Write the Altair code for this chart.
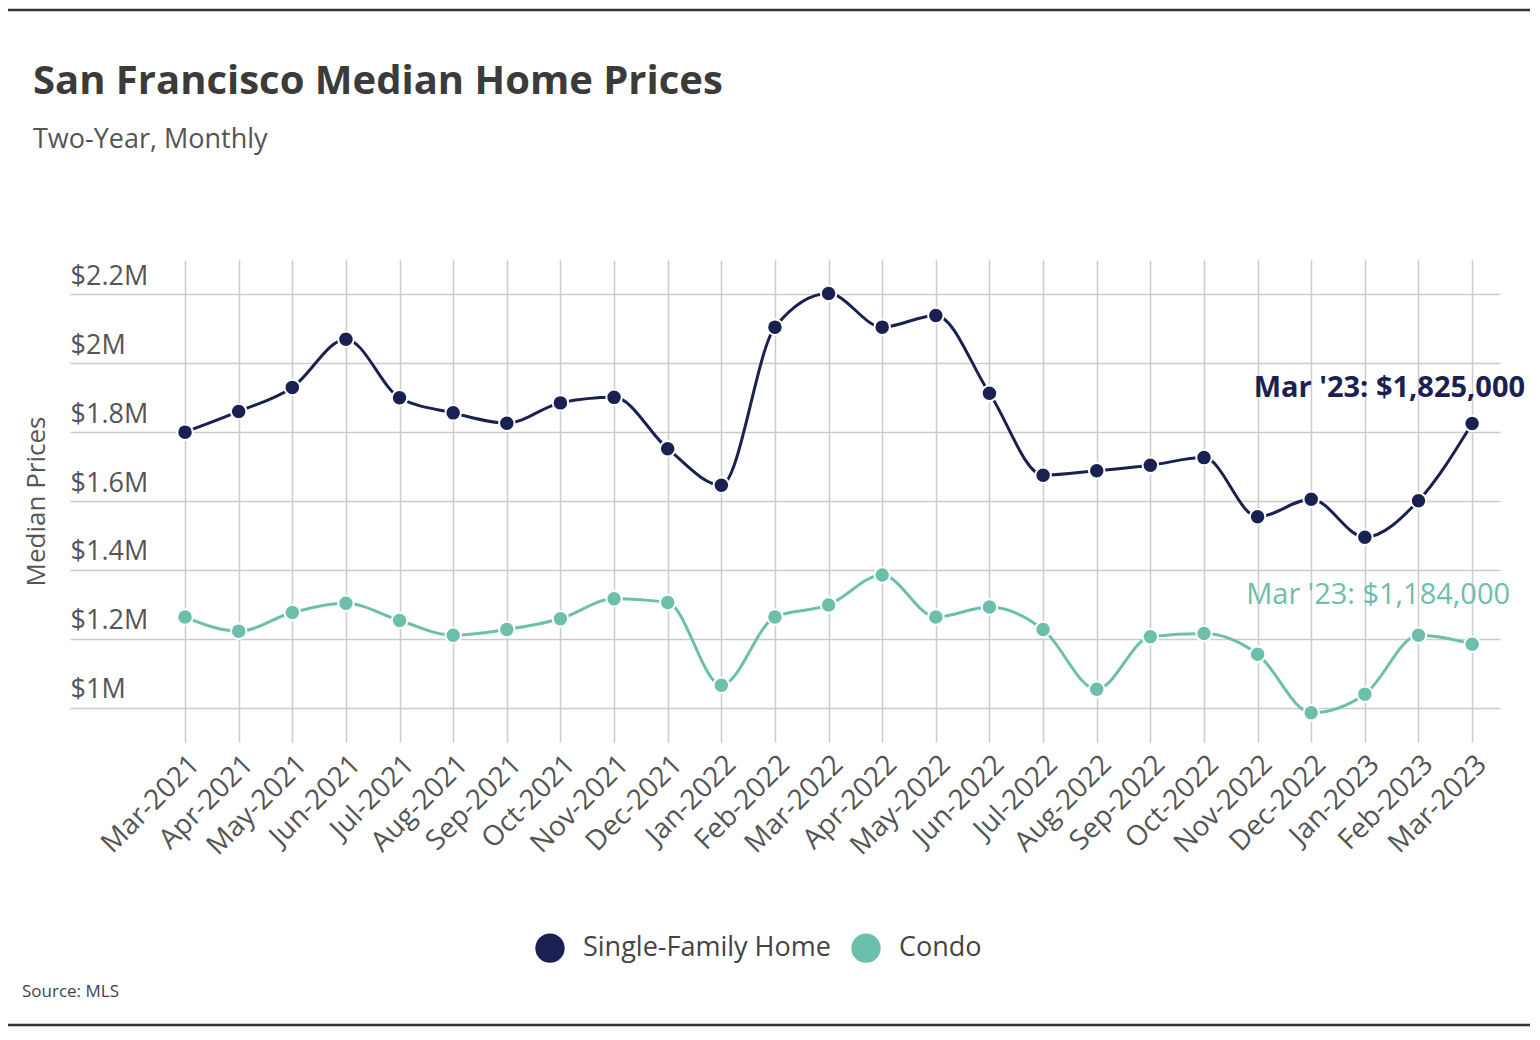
import altair as alt
import pandas as pd

months = ["Mar-2021", "Apr-2021", "May-2021", "Jun-2021", "Jul-2021", "Aug-2021",
          "Sep-2021", "Oct-2021", "Nov-2021", "Dec-2021", "Jan-2022", "Feb-2022",
          "Mar-2022", "Apr-2022", "May-2022", "Jun-2022", "Jul-2022", "Aug-2022",
          "Sep-2022", "Oct-2022", "Nov-2022", "Dec-2022", "Jan-2023", "Feb-2023",
          "Mar-2023"]
sfh = [1800000, 1860000, 1930000, 2070000, 1900000, 1856000, 1826000, 1885000,
       1901000, 1752000, 1646000, 2105000, 2203000, 2105000, 2139000, 1913000,
       1675000, 1688000, 1704000, 1726000, 1554000, 1605000, 1495000, 1601000,
       1825000]
condo = [1263000, 1222000, 1276000, 1303000, 1253000, 1210000, 1227000, 1258000,
         1316000, 1305000, 1065000, 1263000, 1298000, 1385000, 1263000, 1292000,
         1227000, 1053000, 1206000, 1215000, 1155000, 985000, 1039000, 1210000,
         1184000]
series_names = ["Single-Family Home", "Condo"]
colors = ["#1b2052", "#6cc0ab"]
y_ticks = [1000000, 1200000, 1400000, 1600000, 1800000, 2000000, 2200000]
title_text = "San Francisco Median Home Prices"
subtitle_text = "Two-Year, Monthly"
y_title = "Median Prices"
source_text = "Source: MLS"
sfh_note = "Mar '23: $1,825,000"
condo_note = "Mar '23: $1,184,000"

rows = []
for i, m in enumerate(months):
    rows.append({"idx": i, "month": m, "series": series_names[0], "value": sfh[i]})
    rows.append({"idx": i, "month": m, "series": series_names[1], "value": condo[i]})
df = pd.DataFrame(rows)

FONT = "Open Sans"
label_expr = "[" + ",".join("'%s'" % m for m in months) + "][datum.value]"

x_enc = alt.X("idx:Q",
              scale=alt.Scale(domain=[-2.145, 24.52], nice=False, zero=False),
              axis=alt.Axis(values=list(range(len(months))), labelExpr=label_expr,
                            title=None, domain=False, ticks=False, grid=True,
                            gridColor="#cccccc", gridWidth=1.5,
                            labelAngle=315, labelAlign="right", labelBaseline="top",
                            labelPadding=8, labelFontSize=28, labelColor="#555555",
                            labelFont=FONT, labelOverlap=False))
y_enc = alt.Y("value:Q",
              scale=alt.Scale(domain=[900000, 2300000], nice=False, zero=False),
              axis=alt.Axis(values=y_ticks,
                            labelExpr="'$' + format(datum.value/1000000, '.1~f') + 'M'",
                            domain=False, ticks=False, grid=True,
                            gridColor="#cccccc", gridWidth=1.5,
                            labelAlign="left", labelPadding=0, labelBaseline="alphabetic",
                            labelOffset=-10, labelFontSize=27, labelColor="#555555",
                            labelFont=FONT, title=y_title, titleFont=FONT,
                            titleFontSize=26, titleFontWeight="normal",
                            titleColor="#555555", titleAngle=270, titleX=-34,
                            titleY=241, titleAlign="center", titleBaseline="middle"))
color_scale = alt.Scale(domain=series_names, range=colors)

base = alt.Chart(df)
line_sfh = base.transform_filter(alt.datum.series == series_names[0]).mark_line(
    interpolate="monotone", strokeWidth=3, color=colors[0]).encode(x=x_enc, y=y_enc)
line_condo = base.transform_filter(alt.datum.series == series_names[1]).mark_line(
    interpolate="monotone", strokeWidth=3, color=colors[1]).encode(x=x_enc, y=y_enc)
points = base.mark_point(filled=True, size=240, opacity=1, stroke="white",
                         strokeWidth=2).encode(
    x=x_enc, y=y_enc,
    color=alt.Color("series:N", scale=color_scale, sort=series_names,
                    legend=alt.Legend(title=None, orient="none", legendX=465,
                                      legendY=673, direction="horizontal",
                                      symbolType="circle", symbolSize=860,
                                      symbolStrokeWidth=0, labelFontSize=27,
                                      labelFont=FONT, labelColor="#444444",
                                      labelLimit=500, labelOffset=18,
                                      columnPadding=20, padding=0)))

last = len(months) - 1
note_sfh = alt.Chart(pd.DataFrame({"idx": [last], "value": [sfh[last]], "t": [sfh_note]})).mark_text(
    align="right", baseline="middle", dx=53, dy=-36, fontSize=29, font=FONT,
    fontWeight="bold", color=colors[0]).encode(x="idx:Q", y="value:Q", text="t:N")
note_condo = alt.Chart(pd.DataFrame({"idx": [last], "value": [condo[last]], "t": [condo_note]})).mark_text(
    align="right", baseline="middle", dx=38, dy=-49, fontSize=29, font=FONT,
    fontWeight=500, color=colors[1]).encode(x="idx:Q", y="value:Q", text="t:N")

one = pd.DataFrame({"t": [source_text]})
source = alt.Chart(one).mark_text(align="left", baseline="middle", fontSize=17,
                                  font=FONT, color="#444444").encode(
    x=alt.value(-48), y=alt.value(732), text="t:N")
rule_top = alt.Chart(one).mark_rule(color="#333333", strokeWidth=2.5).encode(
    x=alt.value(-62), x2=alt.value(1460), y=alt.value(-250))
rule_bot = alt.Chart(one).mark_rule(color="#333333", strokeWidth=2.5).encode(
    x=alt.value(-62), x2=alt.value(1460), y=alt.value(765))

chart = alt.layer(line_sfh, line_condo, points, note_sfh, note_condo, source,
                  rule_top, rule_bot).properties(
    width=1430, height=482,
    padding={"left": 62, "top": 252, "right": 32, "bottom": 290},
    autosize=alt.AutoSizeParams(type="none"),
    background="white",
    title=alt.TitleParams(text=title_text, subtitle=subtitle_text, anchor="start",
                          frame="group", dx=-37, offset=-144, fontSize=40, font=FONT,
                          fontWeight="bold", color="#3b3b3b", subtitleFont=FONT,
                          subtitleFontSize=27, subtitleColor="#555555",
                          subtitlePadding=25),
).configure_view(stroke=None)

chart.save("out.html", embed_options={"renderer": "svg", "actions": False})
